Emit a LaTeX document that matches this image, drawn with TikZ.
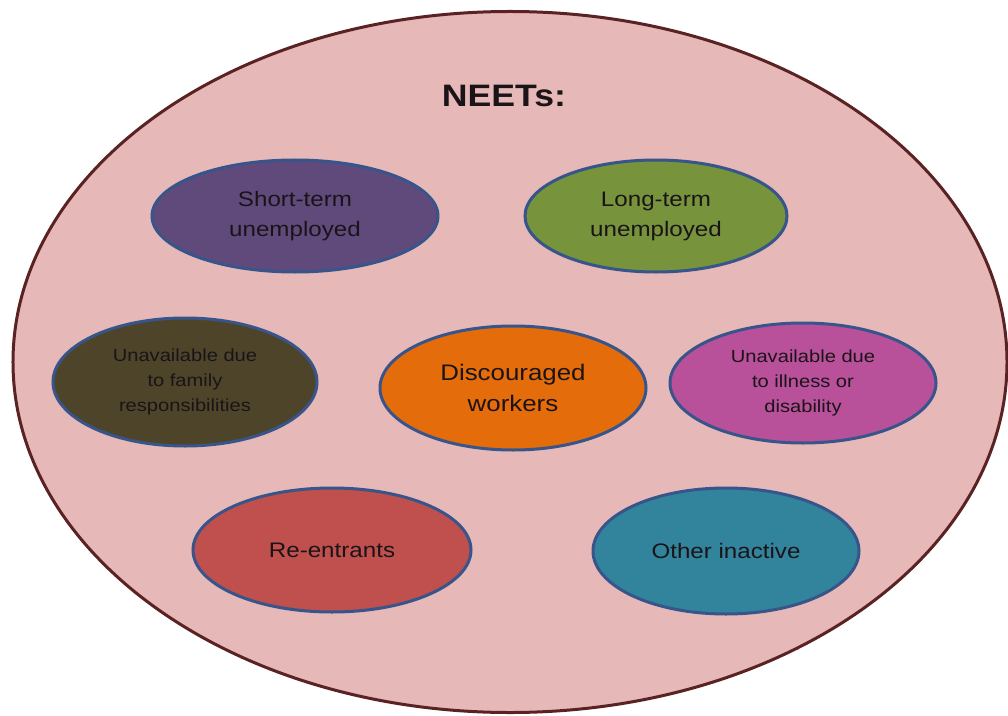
\documentclass[tikz,border=0pt]{standalone}
\usepackage{fontspec}
\setmainfont{Liberation Sans}[FakeStretch=1.15]
\usetikzlibrary{shapes.geometric}
\definecolor{bigfill}{HTML}{E6B8B7}
\definecolor{bigline}{HTML}{5A2222}
\definecolor{ringblue}{HTML}{37558A}
\definecolor{cpurple}{HTML}{604A7B}
\definecolor{cgreen}{HTML}{77933C}
\definecolor{colive}{HTML}{4D4429}
\definecolor{corange}{HTML}{E46C0A}
\definecolor{cmagenta}{HTML}{B9509A}
\definecolor{cred}{HTML}{C0504D}
\definecolor{cteal}{HTML}{31849B}
\definecolor{txt}{HTML}{1A1418}
\tikzset{
  cat/.style={ellipse, draw=ringblue, line width=3bp, inner sep=0pt,
    align=center, text=txt, font=\fontsize{21bp}{30bp}\selectfont},
  catsmall/.style={cat, font=\fontsize{17.5bp}{25bp}\selectfont},
}
\begin{document}
\begin{tikzpicture}[x=1bp,y=-1bp]
\useasboundingbox[fill=white] (0,0) rectangle (1008,716);
\node[ellipse, draw=bigline, fill=bigfill, line width=3bp, inner sep=0pt,
  minimum width=994bp, minimum height=701bp] (neet) at (510,362) {};
\node[font=\bfseries\fontsize{31bp}{36bp}\selectfont, text=txt, anchor=base] (title) at (504,107) {NEETs:};
\node[cat, fill=cpurple, minimum width=286bp, minimum height=112bp] (short) at (295,216) {Short-term\\unemployed};
\node[cat, fill=cgreen, minimum width=262bp, minimum height=112bp] (long) at (656,216) {Long-term\\unemployed};
\node[catsmall, fill=colive, minimum width=264bp, minimum height=128bp] (family) at (185,382) {Unavailable due\\to family\\responsibilities};
\node[cat, fill=corange, minimum width=266bp, minimum height=124bp, font=\fontsize{22.5bp}{31bp}\selectfont] (disc) at (513,388) {Discouraged\\workers};
\node[catsmall, fill=cmagenta, minimum width=266bp, minimum height=120bp] (ill) at (803,383) {Unavailable due\\to illness or\\disability};
\node[cat, fill=cred, minimum width=278bp, minimum height=124bp] (reent) at (332,550) {Re-entrants};
\node[cat, fill=cteal, minimum width=266bp, minimum height=126bp] (other) at (726,551) {Other inactive};
\end{tikzpicture}
\end{document}
